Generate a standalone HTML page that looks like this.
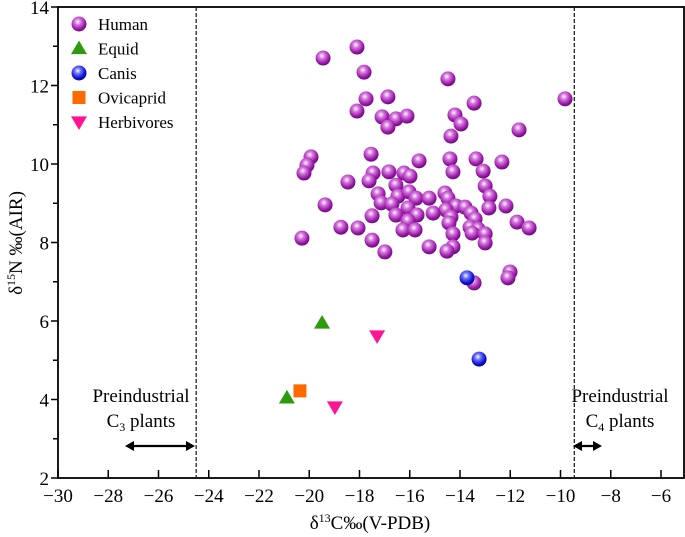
<!DOCTYPE html>
<html><head><meta charset="utf-8"><style>
html,body{margin:0;padding:0;background:#fff;}
svg{display:block;font-family:"Liberation Serif","Times New Roman",serif;}
text{font-family:"Liberation Serif","Times New Roman",serif;}
</style></head><body>
<svg id="chart" width="685" height="537" viewBox="0 0 685 537">
<defs>
<radialGradient id="gHuman" cx="0.42" cy="0.35" r="0.65"><stop offset="0" stop-color="#fff"/><stop offset="0.3" stop-color="#d77be0"/><stop offset="0.75" stop-color="#9a1aa8"/><stop offset="1" stop-color="#6a0a78"/></radialGradient>
<radialGradient id="gCanis" cx="0.42" cy="0.35" r="0.65"><stop offset="0" stop-color="#fff"/><stop offset="0.3" stop-color="#6f78ff"/><stop offset="0.75" stop-color="#1010d0"/><stop offset="1" stop-color="#000890"/></radialGradient>
</defs>
<g id="grid"></g>
<g id="marks"></g>
</svg>
<script>
const humanX=[-19.45,-18.10,-17.82,-14.48,-9.82,-17.74,-16.87,-18.10,-17.10,-16.55,-16.11,-16.87,-14.20,-13.96,-13.44,-14.36,-11.65,-19.93,-20.09,-20.21,-17.54,-15.63,-14.40,-13.36,-12.33,-17.46,-16.83,-16.23,-15.99,-14.28,-13.08,-18.46,-17.62,-16.55,-13.00,-17.26,-16.47,-16.03,-15.75,-15.23,-14.60,-14.48,-12.81,-19.37,-17.14,-16.71,-16.07,-14.16,-13.80,-12.85,-12.17,-14.56,-17.50,-16.55,-15.71,-15.07,-13.56,-13.40,-14.36,-16.07,-11.73,-11.25,-18.74,-18.06,-16.27,-15.79,-14.44,-13.60,-13.28,-13.52,-13.00,-14.28,-20.29,-17.50,-15.23,-13.00,-14.28,-14.52,-16.99,-13.44,-12.01,-12.09];
const humanY=[12.70,12.98,12.34,12.17,11.66,11.66,11.71,11.35,11.20,11.15,11.22,10.94,11.25,11.02,11.55,10.71,10.87,10.18,9.97,9.77,10.25,10.08,10.13,10.13,10.05,9.77,9.80,9.77,9.69,9.80,9.82,9.54,9.57,9.46,9.44,9.24,9.18,9.29,9.13,9.13,9.26,9.13,9.18,8.96,9.01,8.98,8.88,8.93,8.90,8.88,8.93,8.83,8.68,8.70,8.70,8.75,8.75,8.60,8.65,8.55,8.52,8.37,8.39,8.37,8.32,8.32,8.50,8.39,8.34,8.24,8.22,8.22,8.11,8.06,7.89,7.99,7.89,7.78,7.76,6.97,7.25,7.10];
const equidX=[-19.49,-20.89];
const equidY=[5.95,4.04];
const canisX=[-13.72,-13.24];
const canisY=[7.10,5.03];
const ovicapridX=[-20.37];
const ovicapridY=[4.22];
const herbX=[-17.30,-18.98];
const herbY=[5.62,3.81];
const xTicks=[-30,-28,-26,-24,-22,-20,-18,-16,-14,-12,-10,-8,-6];
const yTicks=[2,4,6,8,10,12,14];
const xMin=-30,xMax=-6,yMin=2,yMax=14;
const L=58,R=661,T=7,B=478;
function sx(v){return L+(v-xMin)/(xMax-xMin)*(R-L);}
function sy(v){return B-(v-yMin)/(yMax-yMin)*(B-T);}
const NS="http://www.w3.org/2000/svg";
const grid=document.getElementById('grid'),marks=document.getElementById('marks');
function mk(tag,attrs,parent,text){const e=document.createElementNS(NS,tag);for(const k in attrs)e.setAttribute(k,attrs[k]);if(text!==undefined)e.textContent=text;parent.appendChild(e);return e;}
let e;
e=mk('rect',{x:L,y:T,width:684-L,height:B-T,fill:'none',stroke:'#000','stroke-width':1.8},grid);


xTicks.forEach(v=>{
 e=mk('line',{x1:sx(v),x2:sx(v),y1:B,y2:B-8,stroke:'#000','stroke-width':1.5},grid);
 
 
 e=mk('text',{x:sx(v),y:B+24,'text-anchor':'middle','font-size':19},grid,(v<0?'\u2212'+(-v):v));
 
 
});
for(let v=yMin;v<=yMax;v++){
 const major=v%2===0;
 e=mk('line',{x1:L,x2:L-(major?7:5),y1:sy(v),y2:sy(v),stroke:'#000','stroke-width':1.5},grid);
 
 
}
yTicks.forEach(v=>{
 e=mk('text',{x:L-9,y:sy(v)+7,'text-anchor':'end','font-size':19},grid,v);
 
 
});
[-24.5,-9.45].forEach(v=>{
 e=mk('line',{x1:sx(v),x2:sx(v),y1:T,y2:B,stroke:'#222','stroke-width':1.3,'stroke-dasharray':'4,2'},grid);
 
 
});
e=mk('text',{x:370,y:529,'text-anchor':'middle','font-size':19},grid);


e.innerHTML='δ<tspan font-size="12" dy="-7">13</tspan><tspan dy="7">C‰(V-PDB)</tspan>';
e=mk('text',{x:0,y:0,'text-anchor':'middle','font-size':19,transform:'translate(22,243) rotate(-90)'},grid);


e.innerHTML='δ<tspan font-size="12" dy="-7">15</tspan><tspan dy="7">N ‰(AIR)</tspan>';
e=mk('text',{x:141,y:402,'text-anchor':'middle','font-size':19},grid,'Preindustrial');


e=mk('text',{x:141,y:427,'text-anchor':'middle','font-size':19},grid);


e.innerHTML='C<tspan font-size="12" dy="4">3</tspan><tspan dy="-4"> plants</tspan>';
e=mk('text',{x:620,y:402,'text-anchor':'middle','font-size':19},grid,'Preindustrial');


e=mk('text',{x:620,y:427,'text-anchor':'middle','font-size':19},grid);


e.innerHTML='C<tspan font-size="12" dy="4">4</tspan><tspan dy="-4"> plants</tspan>';
function arrow(x1,x2,y,name){
 const g=mk('g',{},grid);
 
 
 mk('line',{x1:x1+5,x2:x2-5,y1:y,y2:y,stroke:'#000','stroke-width':2.2},g);
 mk('polygon',{points:`${x1},${y} ${x1+9},${y-5} ${x1+9},${y+5}`,fill:'#000'},g);
 mk('polygon',{points:`${x2},${y} ${x2-9},${y-5} ${x2-9},${y+5}`,fill:'#000'},g);
}
arrow(125,195,446,'c3-arrow');
arrow(573,602,446,'c4-arrow');
function ball(cx,cy,grad,name,parent){const c=mk('circle',{cx:cx,cy:cy,r:7.5,fill:`url(#${grad})`},parent);return c;}
function tri(cx,cy,up,color,name,parent){const s=8;const p=up?`${cx},${cy-s} ${cx-s},${cy+s*0.7} ${cx+s},${cy+s*0.7}`:`${cx},${cy+s} ${cx-s},${cy-s*0.7} ${cx+s},${cy-s*0.7}`;const t=mk('polygon',{points:p,fill:color},parent);return t;}
function sq(cx,cy,name,parent){const r=mk('rect',{x:cx-6.5,y:cy-6.5,width:13,height:13,fill:'#ff6a00'},parent);return r;}
humanX.forEach((x,i)=>ball(sx(x),sy(humanY[i]),'gHuman','human-point',marks));
equidX.forEach((x,i)=>tri(sx(x),sy(equidY[i]),true,'#2e9a0e','equid-point',marks));
canisX.forEach((x,i)=>ball(sx(x),sy(canisY[i]),'gCanis','canis-point',marks));
ovicapridX.forEach((x,i)=>sq(sx(x),sy(ovicapridY[i]),'ovicaprid-point',marks));
herbX.forEach((x,i)=>tri(sx(x),sy(herbY[i]),false,'#ff1493','herbivore-point',marks));
const lg=mk('g',{},grid);


const items=['Human','Equid','Canis','Ovicaprid','Herbivores'];
items.forEach((n,i)=>{
 const y=24+i*24.5,cx=79;
 if(i===0)ball(cx,y,'gHuman','legend-human-marker',lg);
 if(i===1)tri(cx,y,true,'#2e9a0e','legend-equid-marker',lg);
 if(i===2)ball(cx,y,'gCanis','legend-canis-marker',lg);
 if(i===3)sq(cx,y,'legend-ovicaprid-marker',lg);
 if(i===4)tri(cx,y,false,'#ff1493','legend-herbivores-marker',lg);
 const t=mk('text',{x:98,y:y+6,'font-size':17},lg,n);
 
 
});
</script>
</body></html>
